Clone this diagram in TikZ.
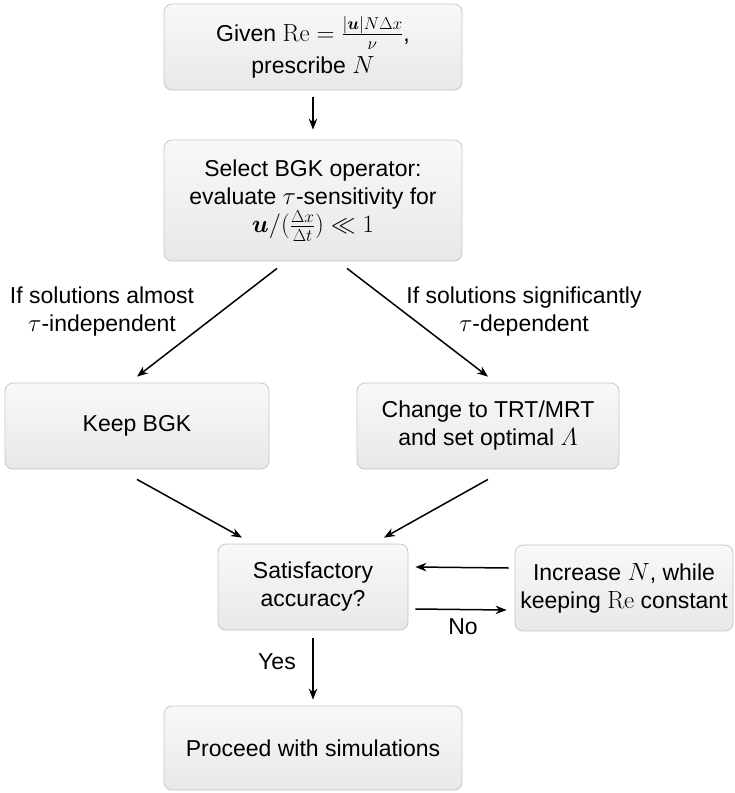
\documentclass[tikz,border=0pt]{standalone}
\usepackage{amsmath}
\usepackage{bm}
\usepackage[no-math]{fontspec}
\setmainfont{Liberation Sans}
\usetikzlibrary{arrows.meta}
\begin{document}
\begin{tikzpicture}[x=1pt,y=-1pt,
  box/.style={draw=gray!45, line width=0.8pt, rounded corners=8pt,
    top color=gray!5, bottom color=gray!18, align=center, inner sep=0pt,
    font=\fontsize{23}{28}\selectfont},
  flow/.style={-{Stealth[length=11pt,width=8.5pt]}, line width=1.5pt},
  lab/.style={align=center, inner sep=0pt, font=\fontsize{23}{28}\selectfont}]
\useasboundingbox (0,0) rectangle (735,793);

% boxes
\node[box, minimum width=298pt, minimum height=86pt] (given) at (313,47)
  {Given $\mathrm{Re}=\frac{|\bm{u}|N\Delta x}{\nu}$,\\[4pt] prescribe $N$};
\node[box, minimum width=298pt, minimum height=121pt] (select) at (313,200.5)
  {Select BGK operator:\\ evaluate $\tau$-sensitivity for\\ $\bm{u}/(\frac{\Delta x}{\Delta t})\ll 1$};
\node[box, minimum width=264pt, minimum height=86pt] (keep) at (137,426) {Keep BGK};
\node[box, minimum width=262pt, minimum height=86pt] (change) at (488,426)
  {Change to TRT/MRT\\ and set optimal $\varLambda$};
\node[box, minimum width=190pt, minimum height=86pt] (sat) at (313,587)
  {Satisfactory\\ accuracy?};
\node[box, minimum width=218pt, minimum height=86pt] (incr) at (624,588)
  {Increase $N$, while\\ keeping $\mathrm{Re}$ constant};
\node[box, minimum width=298pt, minimum height=84pt] (proc) at (313,748)
  {Proceed with simulations};

% branch labels
\node[lab] (lalmost) at (102,312) {If solutions almost\\ $\tau$-independent};
\node[lab] (lsig) at (524,312) {If solutions significantly\\ $\tau$-dependent};
\node[lab] (lno) at (463,627) {No};
\node[lab] (lyes) at (277,662) {Yes};

% connectors
\draw[flow] ([yshift=-7pt]given.south) -- ([yshift=10pt]select.north);
\draw[flow] ([xshift=-36pt,yshift=-7pt]select.south) -- ([yshift=6pt]keep.north);
\draw[flow] ([xshift=34pt,yshift=-7pt]select.south) -- ([yshift=6pt]change.north);
\draw[flow] ([yshift=-10pt]keep.south) -- ([xshift=-71pt,yshift=6pt]sat.north);
\draw[flow] ([yshift=-10pt]change.south) -- ([xshift=71pt,yshift=6pt]sat.north);
\draw[flow] ([xshift=-6pt,yshift=20pt]incr.west) -- ([xshift=7pt,yshift=20pt]sat.east);
\draw[flow] ([xshift=7pt,yshift=-22pt]sat.east) -- ([xshift=-8pt,yshift=-22pt]incr.west);
\draw[flow] ([yshift=-8pt]sat.south) -- ([yshift=6pt]proc.north);
\end{tikzpicture}
\end{document}
